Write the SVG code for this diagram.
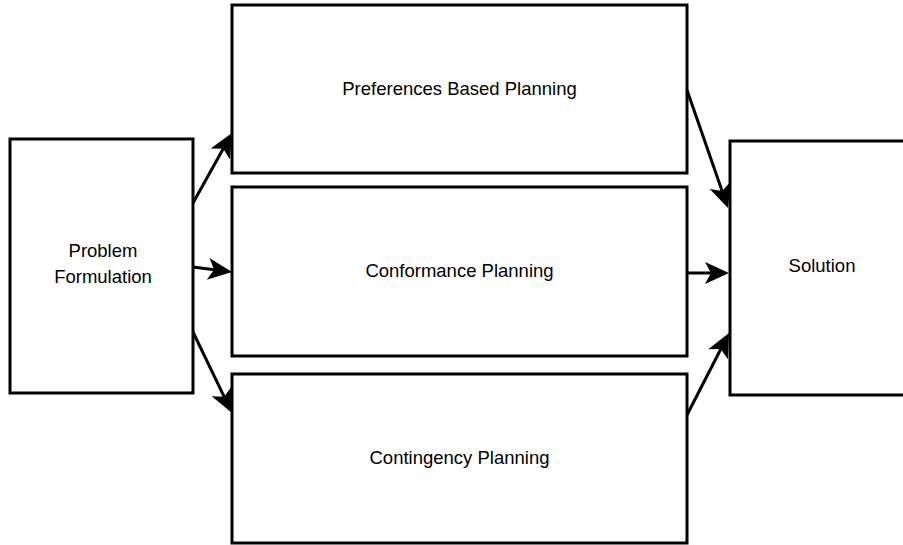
<svg xmlns="http://www.w3.org/2000/svg" width="903" height="545" viewBox="0 0 903 545">
  <style>
    .box { fill: #ffffff; stroke: #000000; stroke-width: 3; }
    .lbl { font-family: "Liberation Sans", Arial, sans-serif; font-size: 18.5px; fill: #000000; text-anchor: middle; }
    .edge { fill: none; stroke: #000000; stroke-width: 3; }
  </style>
  <defs>
    <marker id="arrow" markerUnits="userSpaceOnUse" markerWidth="26" markerHeight="24" refX="6" refY="11" orient="auto" overflow="visible">
      <path d="M0,0 L24,11 L0,22 L6,11 Z" fill="#000000"/>
    </marker>
  </defs>
  <rect width="903" height="545" fill="#ffffff"/>

  <g id="problem-formulation">
    <rect class="box" x="10" y="139" width="183" height="254"/>
    <text class="lbl" x="103" y="257">Problem</text>
    <text class="lbl" x="103" y="283">Formulation</text>
  </g>

  <g id="preferences-based-planning">
    <rect class="box" x="232" y="5" width="455" height="168"/>
    <text class="lbl" x="459.5" y="95">Preferences Based Planning</text>
  </g>

  <g id="conformance-planning">
    <rect class="box" x="232" y="187" width="455" height="169"/>
    <text class="lbl" x="459.5" y="277">Conformance Planning</text>
  </g>

  <g id="contingency-planning">
    <rect class="box" x="232" y="374" width="455" height="169"/>
    <text class="lbl" x="459.5" y="464">Contingency Planning</text>
  </g>

  <g id="solution">
    <rect class="box" x="730" y="141" width="200" height="254"/>
    <text class="lbl" x="822" y="272">Solution</text>
  </g>

  <g id="connectors">
    <line class="edge" x1="193" y1="203" x2="223.2" y2="148.7" marker-end="url(#arrow)"/>
    <line class="edge" x1="193" y1="267" x2="214.1" y2="269.7" marker-end="url(#arrow)"/>
    <line class="edge" x1="193" y1="332" x2="224.2" y2="396.8" marker-end="url(#arrow)"/>
    <line class="edge" x1="687" y1="90" x2="722.1" y2="191" marker-end="url(#arrow)"/>
    <line class="edge" x1="687" y1="273" x2="711" y2="273" marker-end="url(#arrow)"/>
    <line class="edge" x1="687" y1="415" x2="720.8" y2="349" marker-end="url(#arrow)"/>
  </g>
</svg>
